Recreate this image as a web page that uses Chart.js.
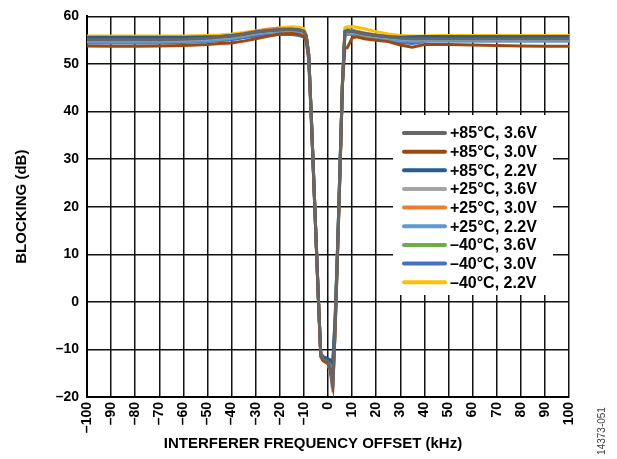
<!DOCTYPE html>
<html>
<head>
<meta charset="utf-8">
<script src="https://cdn.jsdelivr.net/npm/chart.js@4.4.1/dist/chart.umd.min.js"></script>
<style>
  html, body { margin: 0; padding: 0; background: #fff; }
  #wrap { width: 617px; height: 459px; }
</style>
</head>
<body>
<div id="wrap"><canvas id="blocking" width="617" height="459"></canvas></div>
<script>
// interferer frequency offset, kHz
const freqOffset = [-100, -90, -80, -70, -60, -50, -45, -40, -35, -30, -25, -20, -15, -12, -10,
  -9, -8, -7, -6, -5, -4, -3, -2, -1, 0, 1, 2, 3, 4, 5, 6, 7, 8,
  10, 12, 15, 20, 25, 30, 35, 40, 45, 50, 60, 70, 80, 90, 100];

// blocking, dB
const t85v36 = [55.1, 55.1, 55.1, 55.1, 55.2, 55.4, 55.6, 55.8, 56.2, 56.7, 57.0, 57.2, 57.2, 57.1, 56.8,
  55.8, 52.0, 40.0, 27.0, 14.0, 1.0, -11.0, -12.0, -12.3, -12.6, -14.0, -18.0, -5.0, 11.0, 28.0, 46.0, 56.6, 56.9,
  56.8, 56.6, 56.3, 56.0, 55.7, 55.4, 55.3, 55.3, 55.3, 55.3, 55.3, 55.3, 55.3, 55.3, 55.3];
const t85v30 = [53.8, 53.7, 53.7, 53.8, 53.9, 54.1, 54.3, 54.4, 54.8, 55.3, 55.8, 56.3, 56.4, 56.2, 55.8,
  54.8, 51.0, 39.0, 26.5, 13.5, 0.5, -11.5, -12.4, -12.7, -13.0, -14.5, -17.5, -5.5, 10.5, 27.5, 45.5, 53.4, 53.4,
  55.5, 55.7, 55.3, 55.0, 54.7, 54.0, 53.5, 54.1, 54.1, 54.1, 54.0, 53.9, 53.8, 53.7, 53.7];
const t85v22 = [55.6, 55.6, 55.6, 55.6, 55.6, 55.7, 55.8, 56.0, 56.3, 56.7, 57.0, 57.2, 57.3, 57.2, 56.9,
  55.9, 52.0, 40.0, 27.0, 14.0, 1.0, -11.0, -11.6, -11.8, -12.0, -12.2, -13.0, -3.0, 12.0, 29.0, 46.0, 56.8, 57.0,
  56.9, 56.7, 56.4, 56.0, 55.7, 55.6, 55.7, 55.8, 55.8, 55.8, 55.8, 55.8, 55.8, 55.8, 55.8];
const t25v36 = [55.0, 55.0, 55.0, 55.0, 55.1, 55.3, 55.5, 55.7, 56.1, 56.6, 56.9, 57.1, 57.1, 57.0, 56.7,
  55.6, 51.5, 39.5, 26.5, 13.5, 0.5, -11.5, -12.3, -12.6, -13.0, -15.0, -19.0, -6.0, 10.5, 27.5, 45.5, 56.5, 56.8,
  56.7, 56.5, 56.2, 55.9, 55.6, 55.3, 55.2, 55.2, 55.2, 55.2, 55.2, 55.2, 55.2, 55.2, 55.2];
const t25v30 = [55.2, 55.2, 55.2, 55.2, 55.3, 55.5, 55.7, 56.0, 56.4, 56.9, 57.3, 57.5, 57.4, 57.2, 56.9,
  55.8, 52.0, 40.0, 27.0, 14.0, 1.0, -11.2, -12.0, -12.4, -12.8, -14.5, -17.8, -5.0, 11.0, 28.0, 46.0, 56.8, 57.1,
  57.0, 56.8, 56.5, 56.1, 55.8, 55.5, 55.4, 55.4, 55.4, 55.4, 55.4, 55.4, 55.4, 55.4, 55.4];
const t25v22 = [54.6, 54.6, 54.6, 54.6, 54.7, 54.9, 55.1, 55.4, 55.8, 56.3, 56.6, 56.8, 56.9, 56.8, 56.5,
  55.5, 51.5, 39.5, 26.5, 13.5, 0.5, -11.0, -11.6, -11.9, -12.1, -12.5, -13.5, -3.5, 11.5, 28.5, 46.0, 56.2, 56.5,
  56.4, 56.2, 55.9, 55.5, 55.2, 54.9, 54.8, 54.8, 54.8, 54.8, 54.8, 54.8, 54.8, 54.8, 54.8];
const tm40v36 = [55.3, 55.3, 55.3, 55.3, 55.3, 55.4, 55.5, 55.6, 55.9, 56.4, 56.8, 57.1, 57.2, 57.1, 56.8,
  55.7, 51.8, 40.0, 27.0, 14.0, 1.0, -11.2, -12.0, -12.3, -12.6, -13.5, -16.5, -4.0, 11.5, 28.5, 46.0, 56.9, 57.2,
  57.1, 56.9, 56.5, 56.1, 55.8, 55.5, 55.4, 55.4, 55.4, 55.4, 55.4, 55.4, 55.4, 55.4, 55.4];
const tm40v30 = [54.4, 54.4, 54.4, 54.4, 54.5, 54.7, 54.9, 55.1, 55.5, 55.9, 56.1, 56.2, 56.2, 56.0, 55.6,
  54.9, 51.0, 39.5, 26.5, 13.5, 0.5, -11.0, -11.5, -11.7, -12.0, -12.3, -12.8, -3.0, 12.0, 29.0, 46.0, 55.8, 56.3,
  56.2, 56.0, 55.7, 55.2, 54.9, 54.5, 54.3, 54.7, 55.2, 55.5, 55.6, 55.6, 55.6, 55.6, 55.6];
const tm40v22 = [55.9, 55.9, 55.9, 55.9, 55.9, 56.0, 56.1, 56.3, 56.6, 57.0, 57.3, 57.6, 57.8, 57.7, 57.4,
  56.0, 52.0, 40.0, 27.0, 14.0, 1.0, -11.5, -12.3, -12.5, -12.4, -12.8, -14.0, -3.0, 12.0, 29.0, 46.5, 57.6, 57.8,
  57.8, 57.7, 57.4, 56.8, 56.3, 56.0, 55.9, 55.9, 56.0, 56.0, 56.0, 56.0, 56.0, 56.0, 56.0];

const seriesNames = ['+85°C, 3.6V', '+85°C, 3.0V', '+85°C, 2.2V', '+25°C, 3.6V', '+25°C, 3.0V',
  '+25°C, 2.2V', '–40°C, 3.6V', '–40°C, 3.0V', '–40°C, 2.2V'];
const seriesValues = [t85v36, t85v30, t85v22, t25v36, t25v30, t25v22, tm40v36, tm40v30, tm40v22];
const seriesColors = ['#666666', '#9E480E', '#255E91', '#A5A5A5', '#ED7D31', '#5B9BD5', '#70AD47', '#4472C4', '#FFC000'];

const FONT = '"Liberation Sans", Arial, sans-serif';

const datasets = seriesNames.map(function (name, i) {
  return {
    label: name,
    data: freqOffset.map(function (f, j) { return { x: f, y: seriesValues[i][j] }; }),
    borderColor: seriesColors[i],
    backgroundColor: seriesColors[i],
    borderWidth: 3,
    pointRadius: 0,
    tension: 0,
    fill: false
  };
});

function dash(v) {
  return v < 0 ? '–' + Math.abs(v) : '' + v;
}

// legend box, x-axis title and figure number
const extras = {
  id: 'extras',
  afterDraw: function (chart) {
    const ctx = chart.ctx;
    ctx.save();
    ctx.fillStyle = '#fff';
    ctx.fillRect(393, 115, 160, 180);
    ctx.font = 'bold 16px ' + FONT;
    ctx.textBaseline = 'middle';
    ctx.textAlign = 'left';
    chart.data.datasets.forEach(function (ds, i) {
      const y = 133 + i * 18.65;
      ctx.strokeStyle = ds.borderColor;
      ctx.lineWidth = 4;
      ctx.lineCap = 'round';
      ctx.beginPath();
      ctx.moveTo(404, y);
      ctx.lineTo(445, y);
      ctx.stroke();
      ctx.fillStyle = '#000';
      ctx.fillText(ds.label, 450, y + 1);
    });

    ctx.font = 'bold 15px ' + FONT;
    ctx.textAlign = 'center';
    ctx.fillStyle = '#000';
    ctx.fillText('INTERFERER FREQUENCY OFFSET (kHz)', 313, 444);

    ctx.translate(602, 431);
    ctx.rotate(-Math.PI / 2);
    ctx.font = '10px ' + FONT;
    ctx.fillStyle = '#444';
    ctx.fillText('14373-051', 0, 0);
    ctx.restore();
  }
};

new Chart(document.getElementById('blocking'), {
  type: 'line',
  data: { datasets: datasets },
  plugins: [extras],
  options: {
    responsive: false,
    animation: false,
    layout: { padding: { top: 16, right: 48, bottom: 0, left: 0 } },
    plugins: {
      legend: { display: false },
      tooltip: { enabled: false }
    },
    scales: {
      x: {
        type: 'linear',
        min: -100,
        max: 100,
        afterFit: function (scale) { scale.height = 62; },
        ticks: {
          stepSize: 10,
          minRotation: 90,
          maxRotation: 90,
          padding: 5,
          color: '#000',
          font: { family: FONT, size: 14, weight: 'bold' },
          callback: function (v) { return dash(v); }
        },
        grid: { color: '#111', lineWidth: 1.5, drawTicks: false },
        border: { color: '#000', width: 2 },
        title: { display: false }
      },
      y: {
        min: -20,
        max: 60,
        afterFit: function (scale) { scale.width = 87; },
        ticks: {
          stepSize: 10,
          padding: 8,
          color: '#000',
          font: { family: FONT, size: 14, weight: 'bold' },
          callback: function (v) { return dash(v); }
        },
        grid: { color: '#111', lineWidth: 1.5, drawTicks: false },
        border: { color: '#000', width: 2 },
        title: {
          display: true,
          text: 'BLOCKING (dB)',
          color: '#000',
          font: { family: FONT, size: 15, weight: 'bold' },
          padding: { top: 13, bottom: 0 }
        }
      }
    }
  }
});
</script>
</body>
</html>
